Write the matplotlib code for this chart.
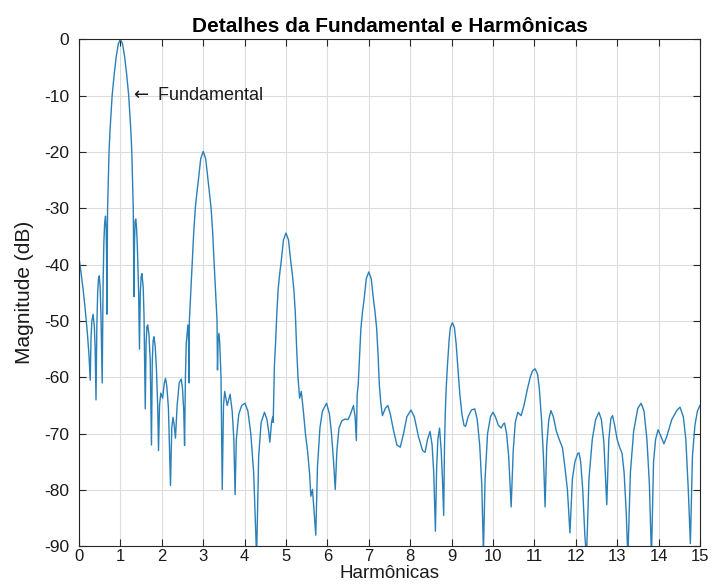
import matplotlib
matplotlib.use("Agg")
import matplotlib.pyplot as plt

# Spectrum (harmonic order, magnitude in dB)
harm = [
    0.00, 0.05, 0.10, 0.15, 0.20, 0.24, 0.27, 0.29, 0.31, 0.34, 0.37, 0.39, 0.41,
    0.43, 0.45, 0.47, 0.49, 0.51, 0.53, 0.56, 0.58, 0.60, 0.62, 0.64, 0.655, 0.665,
    0.672, 0.68, 0.69, 0.71, 0.725, 0.75, 0.80, 0.85, 0.90, 0.95, 1.00, 1.05, 1.10,
    1.15, 1.20, 1.25, 1.275, 1.29, 1.31, 1.32, 1.328, 1.34, 1.355, 1.37, 1.39, 1.41,
    1.44, 1.46, 1.48, 1.50, 1.52, 1.55, 1.57, 1.60, 1.62, 1.64, 1.66, 1.69, 1.72,
    1.75, 1.77, 1.79, 1.81, 1.84, 1.87, 1.90, 1.92, 1.945, 1.975, 2.02, 2.06, 2.09,
    2.12, 2.16, 2.21, 2.24, 2.27, 2.30, 2.33, 2.37, 2.42, 2.47, 2.50, 2.53, 2.55,
    2.57, 2.59, 2.63, 2.645, 2.66, 2.666, 2.70, 2.735, 2.77, 2.81, 2.85, 2.885,
    2.94, 3.00, 3.06, 3.115, 3.15, 3.19, 3.23, 3.265, 3.30, 3.334, 3.345, 3.36, 3.38,
    3.40, 3.43, 3.46, 3.49, 3.52, 3.58, 3.65, 3.70, 3.74, 3.77, 3.80, 3.86, 3.93,
    4.01, 4.08, 4.15, 4.22, 4.29, 4.34, 4.40, 4.48, 4.54, 4.58, 4.61, 4.65, 4.68,
    4.69, 4.70, 4.72, 4.745, 4.78, 4.81, 4.85, 4.885, 4.94, 5.00, 5.06, 5.115, 5.15,
    5.19, 5.225, 5.255, 5.29, 5.33, 5.37, 5.42, 5.47, 5.52, 5.57, 5.60, 5.64, 5.68,
    5.72, 5.76, 5.82, 5.88, 5.98, 6.05, 6.10, 6.15, 6.19, 6.23, 6.28, 6.35, 6.43,
    6.50, 6.56, 6.63, 6.67, 6.70, 6.72, 6.745, 6.78, 6.81, 6.85, 6.885, 6.94, 7.00,
    7.06, 7.115, 7.15, 7.19, 7.225, 7.255, 7.29, 7.33, 7.40, 7.46, 7.52, 7.60, 7.68,
    7.76, 7.84, 7.92, 8.02, 8.10, 8.20, 8.30, 8.36, 8.42, 8.48, 8.53, 8.57, 8.61,
    8.64, 8.67, 8.71, 8.75, 8.78, 8.81, 8.83, 8.85, 8.87, 8.90, 8.94, 8.97, 9.02,
    9.07, 9.11, 9.15, 9.20, 9.25, 9.30, 9.34, 9.40, 9.48, 9.56, 9.62, 9.68, 9.73,
    9.77, 9.81, 9.87, 9.94, 10.00, 10.06, 10.13, 10.20, 10.25, 10.28, 10.33, 10.38,
    10.44, 10.49, 10.54, 10.60, 10.68, 10.75, 10.82, 10.90, 10.96, 11.02, 11.08,
    11.12, 11.17, 11.22, 11.26, 11.30, 11.35, 11.40, 11.46, 11.53, 11.60, 11.68,
    11.74, 11.80, 11.86, 11.92, 11.98, 12.05, 12.08, 12.12, 12.17, 12.22, 12.26,
    12.32, 12.40, 12.48, 12.56, 12.62, 12.68, 12.75, 12.80, 12.85, 12.89, 12.94,
    13.00, 13.06, 13.12, 13.17, 13.22, 13.26, 13.32, 13.40, 13.50, 13.58, 13.65,
    13.72, 13.78, 13.83, 13.88, 13.93, 13.99, 14.06, 14.13, 14.20, 14.32, 14.45,
    14.52, 14.60, 14.66, 14.72, 14.77, 14.82, 14.88, 14.94, 15.00,
]
mag_db = [
    -38.8, -41.5, -44.5, -48.0, -52.0, -56.0, -60.5, -53.0, -50.0, -48.8, -51.0, -55.0, -64.0,
    -51.0, -45.0, -42.5, -42.0, -44.0, -49.0, -61.0, -44.0, -36.0, -32.5, -31.4, -33.5, -38.0,
    -48.8, -40.0, -30.0, -24.0, -20.0, -16.0, -10.0, -6.2, -3.0, -0.8, 0.0, -0.8, -3.0,
    -6.2, -10.0, -16.0, -20.0, -24.0, -30.0, -40.0, -45.7, -36.0, -32.3, -31.9, -33.5, -37.0,
    -45.0, -55.0, -45.0, -42.2, -41.6, -44.0, -49.0, -65.6, -54.0, -51.0, -50.7, -52.5, -57.0,
    -72.0, -57.0, -53.5, -52.8, -54.5, -58.5, -65.0, -73.0, -65.0, -62.8, -63.7, -61.0, -60.2,
    -61.5, -65.5, -79.2, -69.0, -67.1, -68.5, -70.8, -65.0, -61.0, -60.3, -62.0, -66.0, -72.1,
    -60.0, -54.0, -50.7, -53.0, -61.0, -49.9, -44.9, -39.9, -34.4, -29.9, -27.1, -24.9,
    -21.2, -19.9, -21.2, -24.9, -27.1, -29.9, -34.4, -39.9, -44.9, -49.9, -58.7, -53.5, -52.2,
    -54.0, -60.0, -79.9, -65.0, -62.5, -65.0, -63.0, -66.0, -71.0, -80.8, -71.0, -66.5, -65.0,
    -64.6, -66.0, -70.0, -77.0, -92.0, -74.0, -68.0, -66.2, -67.5, -69.5, -71.5, -68.0, -67.0,
    -68.0, -65.0, -58.0, -54.4, -48.5, -44.4, -41.5, -39.4, -35.6, -34.4, -35.6, -39.4, -41.5,
    -44.4, -48.5, -54.4, -60.0, -63.7, -62.5, -66.0, -70.0, -73.0, -77.0, -81.1, -79.9, -84.0,
    -88.0, -76.0, -69.0, -66.0, -64.6, -66.5, -70.0, -75.0, -79.9, -73.0, -69.0, -67.7, -67.4,
    -67.5, -66.5, -65.0, -67.0, -71.2, -63.0, -61.3, -56.0, -51.3, -48.3, -46.3, -42.5, -41.3,
    -42.5, -46.3, -48.3, -51.3, -56.0, -61.3, -64.5, -66.8, -65.5, -65.0, -66.5, -69.5, -72.0,
    -72.4, -70.0, -67.0, -65.8, -67.0, -70.5, -73.0, -73.3, -71.0, -69.6, -72.0, -77.0, -87.3,
    -76.0, -71.0, -69.0, -73.0, -78.0, -84.5, -72.0, -66.0, -62.0, -58.0, -53.5, -51.2, -50.3,
    -51.2, -54.0, -58.0, -63.0, -66.5, -68.5, -68.7, -67.0, -65.8, -65.6, -67.5, -72.0, -79.0,
    -91.0, -78.0, -70.0, -67.0, -66.2, -67.0, -68.5, -69.0, -68.3, -68.1, -70.0, -74.0,
    -83.0, -73.0, -68.0, -66.2, -66.8, -65.0, -62.5, -60.0, -58.8, -58.5, -59.5,
    -62.0, -67.0, -74.0, -83.0, -72.0, -67.5, -65.9, -67.0, -69.5, -71.0, -72.5,
    -76.0, -80.0, -87.6, -78.0, -75.0, -73.5, -73.4, -75.0, -80.0, -88.0, -92.0,
    -78.0, -71.0, -67.5, -66.2, -67.5, -71.5, -82.6, -71.0, -67.3, -66.8, -68.5,
    -71.0, -72.4, -73.5, -77.0, -84.0, -92.0, -77.0, -69.5, -65.5, -64.6, -66.0,
    -71.0, -79.0, -92.0, -75.0, -71.0, -69.3, -70.5, -71.8, -70.5, -67.5, -65.8,
    -65.3, -67.0, -71.0, -80.0, -89.5, -74.0, -68.5, -66.0, -65.0,
]

x_ticks = list(range(0, 16))
y_ticks = list(range(-90, 1, 10))

title_text = "Detalhes da Fundamental e Harmônicas"
xlabel_text = "Harmônicas"
ylabel_text = "Magnitude (dB)"
annot_text = r"$\leftarrow$ Fundamental"
annot_x, annot_y = 1.22, -10

plt.rcParams['font.family'] = ['Liberation Sans', 'DejaVu Sans']
plt.rcParams['axes.unicode_minus'] = False

fig = plt.figure(figsize=(7.12, 5.85), dpi=100)
ax = fig.add_axes([0.111, 0.066, 0.872, 0.867])

ax.plot(harm, mag_db, color='#2a80b9', linewidth=1.0)

ax.set_xlim(0, 15)
ax.set_ylim(-90, 0)
ax.set_xticks(x_ticks)
ax.set_yticks(y_ticks)
ax.grid(True, color='#dcdcdc', linewidth=0.8)
ax.set_axisbelow(True)
ax.tick_params(direction='in', length=5, top=True, right=True,
               labelsize=12.5, colors='#262626', labelcolor='#1a1a1a')
ax.tick_params(axis='x', pad=2, labelsize=12)
ax.tick_params(axis='y', pad=7)
for s in ax.spines.values():
    s.set_color('#262626')
    s.set_linewidth(0.8)

ax.set_title(title_text, fontsize=15, fontweight='bold', pad=5)
ax.set_xlabel(xlabel_text, fontsize=13.5, labelpad=0.5, color='#1a1a1a')
ax.set_ylabel(ylabel_text, fontsize=15, labelpad=7, color='#1a1a1a')
ax.text(annot_x, annot_y, annot_text, fontsize=13, va='center', ha='left', color='#1a1a1a')

fig.savefig("out.png", dpi=100)
